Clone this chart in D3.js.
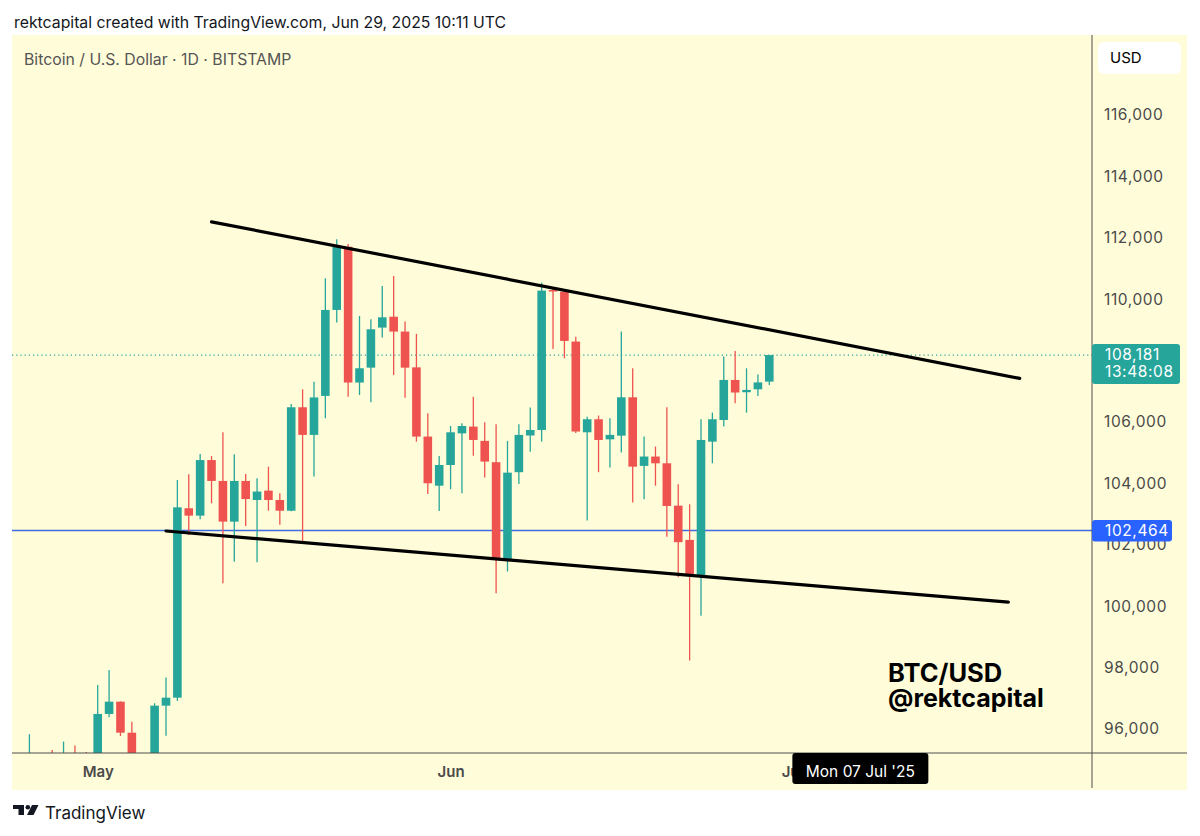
<!DOCTYPE html>
<html>
<head>
<meta charset="utf-8">
<script src="https://cdn.jsdelivr.net/npm/d3@7"></script>
<style>
  body { margin: 0; background: #fff; }
  svg { display: block; font-family: Inter, "Noto Sans", sans-serif; }
</style>
</head>
<body>
<div id="chart"></div>
<script>
// daily candles, BTC/USD Bitstamp
var days = [
  "2025-04-25","2025-04-26","2025-04-27","2025-04-28","2025-04-29","2025-04-30",
  "2025-05-01","2025-05-02","2025-05-03","2025-05-04","2025-05-05","2025-05-06","2025-05-07","2025-05-08",
  "2025-05-09","2025-05-10","2025-05-11","2025-05-12","2025-05-13","2025-05-14","2025-05-15","2025-05-16",
  "2025-05-17","2025-05-18","2025-05-19","2025-05-20","2025-05-21","2025-05-22","2025-05-23","2025-05-24",
  "2025-05-25","2025-05-26","2025-05-27","2025-05-28","2025-05-29","2025-05-30","2025-05-31",
  "2025-06-01","2025-06-02","2025-06-03","2025-06-04","2025-06-05","2025-06-06","2025-06-07","2025-06-08",
  "2025-06-09","2025-06-10","2025-06-11","2025-06-12","2025-06-13","2025-06-14","2025-06-15","2025-06-16",
  "2025-06-17","2025-06-18","2025-06-19","2025-06-20","2025-06-21","2025-06-22","2025-06-23","2025-06-24",
  "2025-06-25","2025-06-26","2025-06-27","2025-06-28","2025-06-29"
];
var open = [
  93950, 94700, 94650, 93750, 95000, 94250,
  94200, 96490, 96890, 95880, 94300, 94750, 96760, 97020,
  103190, 102950, 104760, 104080, 102755, 104080, 103460, 103765,
  103460, 103110, 106480, 105580, 106850, 109650, 111710, 107285,
  107770, 109075, 109430, 108945, 107780, 105525, 103925,
  104600, 105630, 105850, 105385, 104690, 101505, 104365, 105560,
  105740, 110300, 110245, 108620, 105665, 106090, 105435, 105555,
  106805, 104570, 104875, 104655, 103275, 102160, 100965, 105360,
  106065, 107370, 106970, 107065, 107315
];
var high = [
  95830, 95200, 95320, 95590, 95460, 95250,
  97435, 97925, 96900, 96240, 95150, 96840, 97680, 104110,
  104300, 104960, 104890, 105665, 104950, 104310, 104170, 104545,
  103680, 106590, 107065, 107315, 110680, 111950, 111800, 109455,
  109345, 110430, 110755, 109270, 108870, 106285, 104890,
  105870, 105960, 106825, 105995, 105930, 105385, 105930, 106470,
  110540, 110400, 110320, 108780, 106175, 106210, 106120, 108945,
  107750, 105525, 105200, 106480, 103970, 103320, 106090, 106305,
  108130, 108315, 107750, 107550, 108181
];
var low = [
  92900, 93900, 93500, 92900, 93900, 92900,
  94100, 96380, 95770, 94200, 93500, 93400, 95780, 96915,
  102320, 102830, 103350, 100750, 101450, 102615, 101430, 103110,
  102650, 103090, 102100, 104225, 106120, 109240, 106825, 106880,
  106645, 108750, 107530, 106790, 105360, 103655, 103100,
  103810, 103680, 104900, 104190, 100420, 101130, 103980, 105035,
  105360, 108380, 108075, 105640, 102790, 104365, 104515, 105005,
  103375, 103485, 103925, 102265, 100945, 98230, 99685, 104655,
  105850, 106610, 106305, 106850, 107205
];
var close = [
  94700, 94650, 93750, 95000, 94250, 94200,
  96490, 96890, 95880, 94300, 94750, 96760, 97020, 103220,
  102950, 104760, 104080, 102755, 104080, 103490, 103735, 103460,
  103110, 106480, 105580, 106800, 109650, 111710, 107285, 107750,
  109020, 109410, 108945, 107770, 105525, 104005, 104600,
  105665, 105870, 105415, 104710, 101505, 104350, 105580, 105740,
  110280, 110250, 108640, 105690, 106090, 105415, 105580, 106805,
  104545, 104875, 104655, 103265, 102085, 100985, 105415, 106090,
  107370, 106960, 107045, 107290, 108181
];

// 108,000 sits under the last-price label, so it is not shown
var priceTicks = [96000, 98000, 100000, 102000, 104000, 106000, 110000, 112000, 114000, 116000];
var monthTicks = ["2025-05-01", "2025-06-01", "2025-07-01"];
var monthLabels = ["May", "Jun", "Jul"];

// drawn lines: falling wedge + horizontal level
var upperLine = [["2025-05-11", 112520], ["2025-07-21", 107420]];
var lowerLine = [["2025-05-07", 102450], ["2025-07-20", 100130]];
var level = 102464;
var lastPrice = 108181;
var cursorDay = "2025-07-07";

var parse = d3.utcParse("%Y-%m-%d");
var candles = days.map((d, i) => ({ date: parse(d), o: open[i], h: high[i], l: low[i], c: close[i] }));

var W = 1200, H = 836,
    plot = { left: 12, right: 1092, top: 35, bottom: 753 },
    panelRight = 1187, panelBottom = 790;

var up = "#26a69a", down = "#ef5350", bg = "#fffdd9", axisCol = "#4f4f4f";

var x = d3.scaleUtc()
    .domain([parse("2025-05-01"), parse("2025-06-29")])
    .range([97.7, 769.3]);
var y = d3.scaleLinear()
    .domain([96000, 116000])
    .range([729, 115]);

var svg = d3.select("#chart").append("svg").attr("width", W).attr("height", H);

svg.append("text")
    .attr("x", 14).attr("y", 28)
    .attr("font-size", 15.8).attr("fill", "#131722")
    .text("rektcapital created with TradingView.com, Jun 29, 2025 10:11 UTC");

svg.append("rect")
    .attr("x", plot.left).attr("y", plot.top)
    .attr("width", panelRight - plot.left).attr("height", panelBottom - plot.top)
    .attr("fill", bg);

svg.append("defs").append("clipPath").attr("id", "clip")
  .append("rect")
    .attr("x", plot.left).attr("y", plot.top)
    .attr("width", plot.right - plot.left).attr("height", plot.bottom - plot.top);

var g = svg.append("g").attr("clip-path", "url(#clip)");

// last price dotted line
g.append("line")
    .attr("x1", plot.left).attr("x2", plot.right)
    .attr("y1", y(lastPrice)).attr("y2", y(lastPrice))
    .attr("stroke", up).attr("stroke-width", 1.2)
    .attr("stroke-dasharray", "1.2,3");

// horizontal level
g.append("line")
    .attr("x1", plot.left).attr("x2", plot.right)
    .attr("y1", y(level)).attr("y2", y(level))
    .attr("stroke", "#3f6ce0").attr("stroke-width", 1.5);

// candles
var bodyW = 8.6;
var cg = g.selectAll(".candle")
  .data(candles)
  .enter().append("g")
    .attr("class", "candle");

cg.append("line")
    .attr("x1", d => x(d.date)).attr("x2", d => x(d.date))
    .attr("y1", d => y(d.h)).attr("y2", d => y(d.l))
    .attr("stroke", d => d.c >= d.o ? up : down)
    .attr("stroke-width", 1.3);

cg.append("rect")
    .attr("x", d => x(d.date) - bodyW / 2)
    .attr("y", d => y(Math.max(d.o, d.c)))
    .attr("width", bodyW)
    .attr("height", d => Math.max(1.3, Math.abs(y(d.o) - y(d.c))))
    .attr("fill", d => d.c >= d.o ? up : down);

// wedge lines
var line = d3.line().x(d => x(parse(d[0]))).y(d => y(d[1]));
[upperLine, lowerLine].forEach(l => {
  g.append("path")
      .attr("d", line(l))
      .attr("fill", "none")
      .attr("stroke", "#000")
      .attr("stroke-width", 3.2)
      .attr("stroke-linecap", "round");
});

// watermark
svg.append("text")
    .attr("x", 888).attr("y", 682)
    .attr("font-size", 25.5).attr("font-weight", 700).attr("fill", "#000")
    .text("BTC/USD");
svg.append("text")
    .attr("x", 888).attr("y", 707)
    .attr("font-size", 25).attr("font-weight", 700).attr("fill", "#000")
    .text("@rektcapital");

svg.append("text")
    .attr("x", 24).attr("y", 65)
    .attr("font-size", 15.8).attr("fill", "#555")
    .text("Bitcoin / U.S. Dollar \u00b7 1D \u00b7 BITSTAMP");

// axis frame
svg.append("line")
    .attr("x1", plot.right).attr("x2", plot.right)
    .attr("y1", plot.top).attr("y2", panelBottom - 2)
    .attr("stroke", axisCol).attr("stroke-width", 1);
svg.append("line")
    .attr("x1", plot.left).attr("x2", panelRight)
    .attr("y1", plot.bottom).attr("y2", plot.bottom)
    .attr("stroke", axisCol).attr("stroke-width", 1);

// price axis
var yAxis = svg.append("g")
    .attr("transform", "translate(" + plot.right + ",0)")
    .call(d3.axisRight(y).tickValues(priceTicks).tickSize(0).tickPadding(12).tickFormat(d3.format(",")));
yAxis.select(".domain").remove();
yAxis.selectAll("text")
    .attr("font-family", "Inter, sans-serif")
    .attr("font-size", 15.5).attr("letter-spacing", 0.6).attr("fill", "#4a4a4a");

// time axis
var xAxis = svg.append("g")
    .attr("transform", "translate(0," + plot.bottom + ")")
    .call(d3.axisBottom(x).tickValues(monthTicks.map(parse)).tickSize(0).tickPadding(13)
      .tickFormat((d, i) => monthLabels[i]));
xAxis.select(".domain").remove();
xAxis.selectAll("text")
    .attr("font-family", "Inter, sans-serif")
    .attr("font-size", 15).attr("font-weight", 600).attr("fill", "#4a4a4a");

// USD box
svg.append("rect")
    .attr("x", 1098).attr("y", 42).attr("width", 83).attr("height", 32).attr("rx", 6)
    .attr("fill", "#fff");
svg.append("text")
    .attr("x", 1110).attr("y", 63).attr("font-size", 15).attr("fill", "#000")
    .text("USD");

// last price label
var lp = y(lastPrice);
svg.append("rect")
    .attr("x", plot.right).attr("y", lp - 11).attr("width", 88).attr("height", 40).attr("rx", 3)
    .attr("fill", up);
svg.append("text")
    .attr("x", 1105).attr("y", lp + 5).attr("font-size", 15.5).attr("letter-spacing", 0.6).attr("fill", "#fff")
    .text(d3.format(",")(lastPrice));
svg.append("text")
    .attr("x", 1105).attr("y", lp + 22).attr("font-size", 15.5).attr("letter-spacing", 0.6).attr("fill", "#fff")
    .text("13:48:08");

// level label (covers most of the 102,000 tick, as in TradingView)
var lv = y(level);
svg.append("rect")
    .attr("x", plot.right).attr("y", lv - 10.5).attr("width", 80).attr("height", 21.5).attr("rx", 3)
    .attr("fill", "#2962ff");
svg.append("text")
    .attr("x", 1105).attr("y", lv + 5.5).attr("font-size", 15.5).attr("letter-spacing", 0.6).attr("fill", "#fff")
    .text(d3.format(",")(level));

// crosshair date label
var cx = x(parse(cursorDay));
svg.append("rect")
    .attr("x", cx - 68).attr("y", plot.bottom).attr("width", 136).attr("height", 31).attr("rx", 3)
    .attr("fill", "#000");
svg.append("text")
    .attr("x", cx).attr("y", plot.bottom + 23.5).attr("text-anchor", "middle")
    .attr("font-size", 15.5).attr("fill", "#fff")
    .text("Mon 07 Jul '25");

// TradingView logo
var logo = svg.append("g").attr("transform", "translate(13,805)").attr("fill", "#131722");
logo.append("path").attr("d", "M0,0 H11 V10 H5.5 V4 H0 Z");
logo.append("circle").attr("cx", 14.8).attr("cy", 2.2).attr("r", 2.3);
logo.append("path").attr("d", "M19,0 H25.5 L20.5,10 H14 Z");
svg.append("text")
    .attr("x", 45).attr("y", 819).attr("font-size", 17).attr("fill", "#131722")
    .text("TradingView");
</script>
</body>
</html>
